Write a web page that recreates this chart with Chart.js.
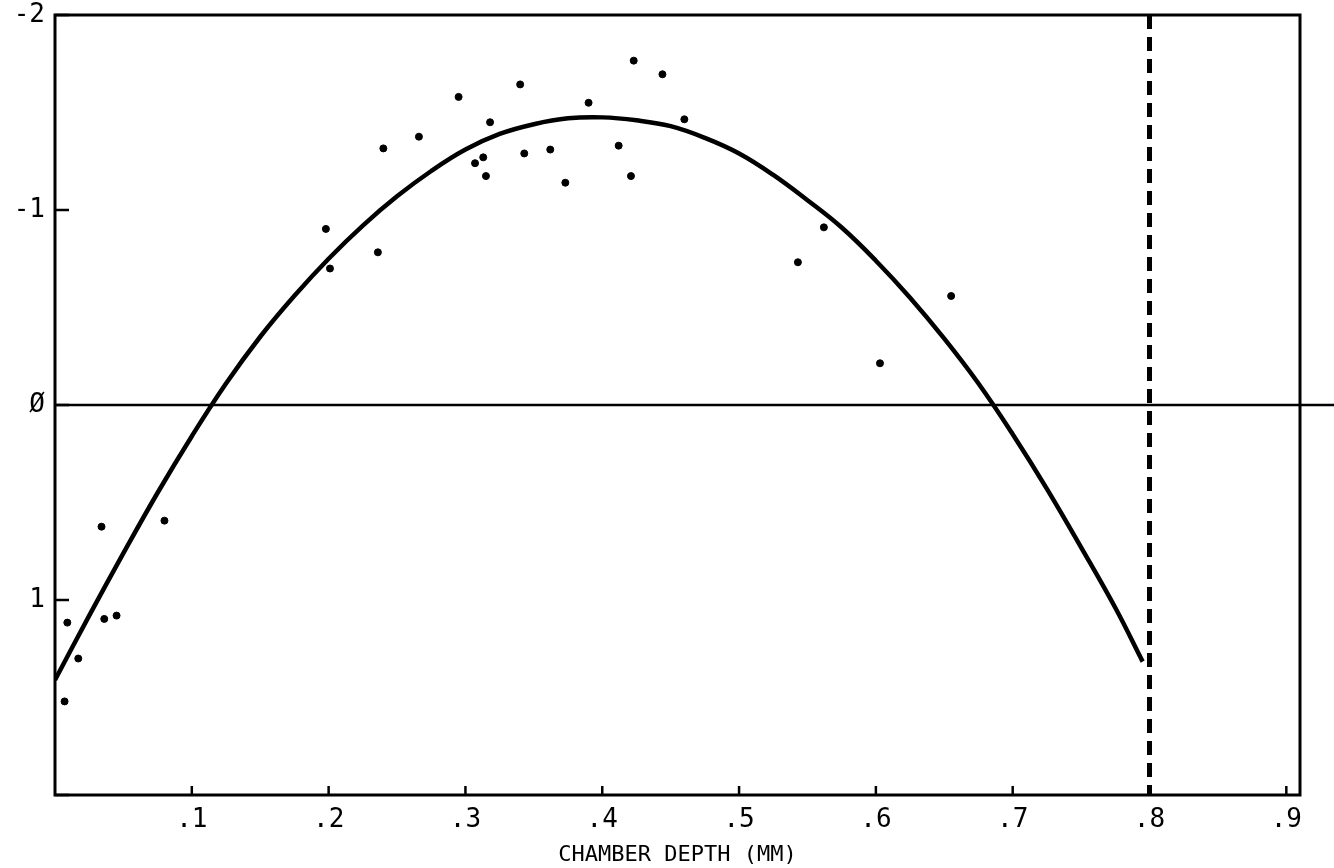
<!DOCTYPE html>
<html>
<head>
<meta charset="utf-8">
<script src="https://cdn.jsdelivr.net/npm/chart.js@4.4.1/dist/chart.umd.min.js"></script>
<style>
  body { margin: 0; background: #fff; }
  #wrap { width: 1334px; height: 868px; }
</style>
</head>
<body>
<div id="wrap"><canvas id="plot" width="1334" height="868"></canvas></div>
<script>
// fitted curve
const curveX = [0, 0.025, 0.05, 0.075, 0.1, 0.125, 0.15, 0.175, 0.2, 0.225, 0.25, 0.275, 0.3, 0.325, 0.35, 0.375, 0.4, 0.425, 0.45, 0.475, 0.5, 0.525, 0.55, 0.575, 0.6, 0.625, 0.65, 0.675, 0.7, 0.725, 0.75, 0.775, 0.795];
const curveY = [1.41, 1.08, 0.76, 0.45, 0.16, -0.11, -0.35, -0.56, -0.75, -0.92, -1.07, -1.2, -1.31, -1.39, -1.44, -1.47, -1.475, -1.46, -1.43, -1.37, -1.29, -1.18, -1.05, -0.91, -0.74, -0.55, -0.34, -0.11, 0.15, 0.43, 0.73, 1.04, 1.316];

// measured points
const pointX = [0.007, 0.009, 0.017, 0.034, 0.036, 0.045, 0.08, 0.198, 0.201, 0.236, 0.24, 0.266, 0.295, 0.307, 0.313, 0.315, 0.318, 0.34, 0.343, 0.362, 0.373, 0.39, 0.412, 0.421, 0.423, 0.444, 0.46, 0.543, 0.562, 0.603, 0.655];
const pointY = [1.52, 1.116, 1.3, 0.624, 1.097, 1.08, 0.593, -0.903, -0.7, -0.783, -1.316, -1.376, -1.58, -1.24, -1.27, -1.174, -1.45, -1.644, -1.29, -1.31, -1.14, -1.55, -1.33, -1.174, -1.766, -1.696, -1.465, -0.732, -0.911, -0.214, -0.559];

// dashed limit line
const limitX = 0.8;
const limitY = [-2, 2];

const xTickValues = [0.1, 0.2, 0.3, 0.4, 0.5, 0.6, 0.7, 0.8, 0.9];
const xTickLabels = ['.1', '.2', '.3', '.4', '.5', '.6', '.7', '.8', '.9'];
const yTickValues = [-2, -1, 0, 1, 2];
const yTickLabels = ['-2', '-1', 'Ø', '1', ''];

const monoFont = "'DejaVu Sans Mono', 'Liberation Mono', monospace";

// frame, zero line and inward tick marks
const framePlugin = {
  id: 'frame',
  afterDatasetsDraw(chart) {
    const { ctx, chartArea: a, scales } = chart;
    ctx.save();
    ctx.strokeStyle = '#000';
    ctx.lineWidth = 3;
    ctx.strokeRect(a.left, a.top, a.right - a.left, a.bottom - a.top);

    const y0 = scales.y.getPixelForValue(0);
    ctx.lineWidth = 2.5;
    ctx.beginPath();
    ctx.moveTo(a.left, y0);
    ctx.lineTo(chart.width, y0);
    ctx.stroke();

    xTickValues.forEach(v => {
      const px = scales.x.getPixelForValue(v);
      ctx.beginPath();
      ctx.moveTo(px, a.bottom);
      ctx.lineTo(px, a.bottom - 9);
      ctx.stroke();
    });
    yTickValues.forEach(v => {
      const py = scales.y.getPixelForValue(v);
      ctx.beginPath();
      ctx.moveTo(a.left, py);
      ctx.lineTo(a.left + 14, py);
      ctx.stroke();
    });
    ctx.restore();
  }
};

new Chart(document.getElementById('plot'), {
  type: 'scatter',
  data: {
    datasets: [
      {
        type: 'line',
        data: curveX.map((x, i) => ({ x: x, y: curveY[i] })),
        borderColor: '#000',
        borderWidth: 4.5,
        pointRadius: 0,
        tension: 0.4,
        fill: false
      },
      {
        type: 'line',
        data: limitY.map(y => ({ x: limitX, y: y })),
        borderColor: '#000',
        borderWidth: 5,
        borderDash: [14, 8],
        pointRadius: 0,
        fill: false
      },
      {
        data: pointX.map((x, i) => ({ x: x, y: pointY[i] })),
        backgroundColor: '#000',
        borderColor: '#000',
        pointRadius: 3.5,
        pointHoverRadius: 3.5
      }
    ]
  },
  options: {
    responsive: false,
    animation: false,
    layout: { padding: { top: 15, right: 34, left: 0, bottom: 0 } },
    plugins: { legend: { display: false }, tooltip: { enabled: false } },
    scales: {
      x: {
        type: 'linear',
        min: 0,
        max: 0.91,
        afterBuildTicks: s => { s.ticks = xTickValues.map(v => ({ value: v })); },
        afterFit: s => { s.height = 73; s.paddingLeft = 0; s.paddingRight = 0; },
        grid: { display: false, drawTicks: false },
        border: { display: false },
        ticks: {
          padding: 10,
          color: '#000',
          font: { family: monoFont, size: 26 },
          callback: (v, i) => xTickLabels[i]
        },
        title: {
          display: true,
          text: 'CHAMBER DEPTH (MM)',
          color: '#000',
          font: { family: monoFont, size: 22 },
          padding: { top: 0, bottom: 0 }
        }
      },
      y: {
        type: 'linear',
        min: -2,
        max: 2,
        reverse: true,
        afterBuildTicks: s => { s.ticks = yTickValues.map(v => ({ value: v })); },
        afterFit: s => { s.width = 55; s.paddingTop = 0; s.paddingBottom = 0; },
        grid: { display: false, drawTicks: false },
        border: { display: false },
        ticks: {
          padding: 10,
          color: '#000',
          font: { family: monoFont, size: 26 },
          callback: (v, i) => yTickLabels[i]
        }
      }
    }
  },
  plugins: [framePlugin]
});
</script>
</body>
</html>
